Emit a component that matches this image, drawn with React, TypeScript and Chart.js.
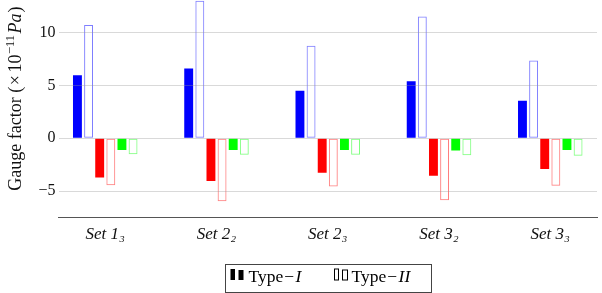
import React, { useEffect, useRef } from 'react';
import { Chart, registerables } from 'chart.js';

Chart.register(...registerables);

// ---- data ----
const categories = ['Set 1₃', 'Set 2₂', 'Set 2₃', 'Set 3₂', 'Set 3₃'];
const blueI = [5.95, 6.6, 4.5, 5.4, 3.55];
const blueII = [10.7, 13.0, 8.75, 11.5, 7.35];
const redI = [-3.7, -4.05, -3.25, -3.55, -2.9];
const redII = [-4.45, -5.95, -4.55, -5.85, -4.5];
const greenI = [-1.1, -1.1, -1.1, -1.15, -1.1];
const greenII = [-1.5, -1.55, -1.55, -1.6, -1.65];
const yTicks = [-5, 0, 5, 10, 15];
const yTitleParts = [
  { t: 'Gauge factor (', size: 18, italic: false, dy: 0, padL: 0, padR: 0 },
  { t: '×', size: 18, italic: false, dy: 0, padL: 1.5, padR: 2.5 },
  { t: '10', size: 18, italic: false, dy: 0, padL: 0, padR: 0.5 },
  { t: '−11', size: 12.5, italic: false, dy: -7, padL: 0, padR: 1.5 },
  { t: 'Pa', size: 18, italic: true, dy: 0, padL: 0, padR: 1 },
  { t: ')', size: 18, italic: false, dy: 0, padL: 0, padR: 0 },
];
const legendItems = [
  { text: 'Type', italic: 'I', filled: true },
  { text: 'Type', italic: 'II', filled: false },
];

const FONT = '"Liberation Serif", "DejaVu Serif", serif';

const toPoints = (arr: number[]) => arr.map((y, i) => ({ x: i, y }));

const yTitlePlugin = {
  id: 'texYTitle',
  afterDraw(chart: any) {
    const { ctx, chartArea } = chart;
    ctx.save();
    const fontOf = (p: any) => `${p.italic ? 'italic ' : ''}${p.size}px ${FONT}`;
    let total = 0;
    yTitleParts.forEach((p) => {
      ctx.font = fontOf(p);
      total += p.padL + ctx.measureText(p.t).width + p.padR;
    });
    ctx.translate(15, (chartArea.top + chartArea.bottom) / 2);
    ctx.rotate(-Math.PI / 2);
    ctx.fillStyle = '#111';
    ctx.textBaseline = 'alphabetic';
    let x = -total / 2;
    const baseY = 6;
    yTitleParts.forEach((p) => {
      ctx.font = fontOf(p);
      x += p.padL;
      ctx.fillText(p.t, x, baseY + p.dy);
      x += ctx.measureText(p.t).width + p.padR;
    });
    ctx.restore();
  },
};

const legendPlugin = {
  id: 'texLegend',
  afterDraw(chart: any) {
    const { ctx, chartArea } = chart;
    const cx = (chartArea.left + chartArea.right) / 2;
    const w = 206;
    const h = 28;
    const left = Math.round(cx - w / 2) + 0.5;
    const top = Math.round(chartArea.bottom + 46) + 0.5;
    ctx.save();
    ctx.strokeStyle = '#444';
    ctx.lineWidth = 1;
    ctx.strokeRect(left, top, w, h);
    const base = top + 15.5;
    const offsets = [5, 108];
    legendItems.forEach((it, k) => {
      const x0 = left + offsets[k];
      if (it.filled) {
        ctx.fillStyle = '#000';
        ctx.fillRect(x0, base - 11, 4.5, 11);
        ctx.fillRect(x0 + 8, base - 10, 5, 10);
      } else {
        ctx.strokeStyle = '#000';
        ctx.lineWidth = 1;
        ctx.strokeRect(Math.round(x0) + 0.5, base - 11, 4, 11);
        ctx.strokeRect(Math.round(x0 + 8) + 0.5, base - 10, 5, 10);
      }
      ctx.fillStyle = '#000';
      ctx.textBaseline = 'alphabetic';
      ctx.font = `17.5px ${FONT}`;
      let tx = x0 + 18;
      const ty = top + 17.5;
      ctx.fillText(it.text, tx, ty);
      tx += ctx.measureText(it.text).width + 1;
      ctx.fillText('−', tx, ty);
      tx += ctx.measureText('−').width + 1.5;
      ctx.font = `italic 17.5px ${FONT}`;
      ctx.fillText(it.italic, tx, ty);
    });
    ctx.restore();
  },
};

export default function App() {
  const ref = useRef<HTMLCanvasElement | null>(null);

  useEffect(() => {
    if (!ref.current) return;
    const mk = (label: string, data: number[], fill: string, border: string, filled: boolean) => ({
      label,
      data: toPoints(data),
      backgroundColor: filled ? fill : 'rgba(0,0,0,0)',
      borderColor: border,
      borderWidth: filled ? 0 : 1,
      borderSkipped: false,
    });
    const chart = new Chart(ref.current, {
      type: 'bar',
      data: {
        datasets: [
          mk('blue I', blueI, '#0000ff', '#0000ff', true),
          mk('blue II', blueII, '#ffffff', '#7f7fff', false),
          mk('red I', redI, '#ff0000', '#ff0000', true),
          mk('red II', redII, '#ffffff', '#ff7f7f', false),
          mk('green I', greenI, '#00ff00', '#00ff00', true),
          mk('green II', greenII, '#ffffff', '#7fff7f', false),
        ] as any,
      },
      options: {
        animation: false,
        responsive: false,
        devicePixelRatio: 1,
        datasets: { bar: { categoryPercentage: 0.6, barPercentage: 0.8 } } as any,
        layout: { padding: { left: 35.5, right: 5, top: 0, bottom: 43 } },
        plugins: { legend: { display: false }, tooltip: { enabled: false } },
        scales: {
          x: {
            type: 'linear',
            offset: false,
            min: -0.42,
            max: 4.42,
            grid: { display: false, drawTicks: false },
            border: { display: true, color: '#555', width: 1 },
            afterBuildTicks: (s: any) => {
              s.ticks = categories.map((_, i) => ({ value: i }));
            },
            ticks: {
              font: { family: FONT, size: 17, style: 'italic' },
              color: '#111',
              padding: 7,
              maxRotation: 0,
              autoSkip: false,
              callback: (v: any) => categories[v] ?? '',
            },
          },
          y: {
            min: -7.5,
            max: 15,
            afterBuildTicks: (s: any) => {
              s.ticks = yTicks.map((v) => ({ value: v }));
            },
            grid: { color: 'rgba(150,150,150,0.36)', drawTicks: false, z: 1 },
            border: { display: false },
            ticks: {
              font: { family: FONT, size: 16 },
              color: '#111',
              padding: 3,
              callback: (v: any) => (v < 0 ? '−' + Math.abs(v) : String(v)),
            },
            title: { display: false },
          },
        } as any,
      },
      plugins: [yTitlePlugin, legendPlugin],
    });
    return () => chart.destroy();
  }, []);

  return (
    <div style={{ position: 'absolute', left: 0, top: 0, width: 602, height: 293, overflow: 'hidden', background: '#fff' }}>
      <canvas
        ref={ref}
        width={602}
        height={328}
        style={{ position: 'absolute', left: 0, top: -33, width: 602, height: 328 }}
      />
    </div>
  );
}
